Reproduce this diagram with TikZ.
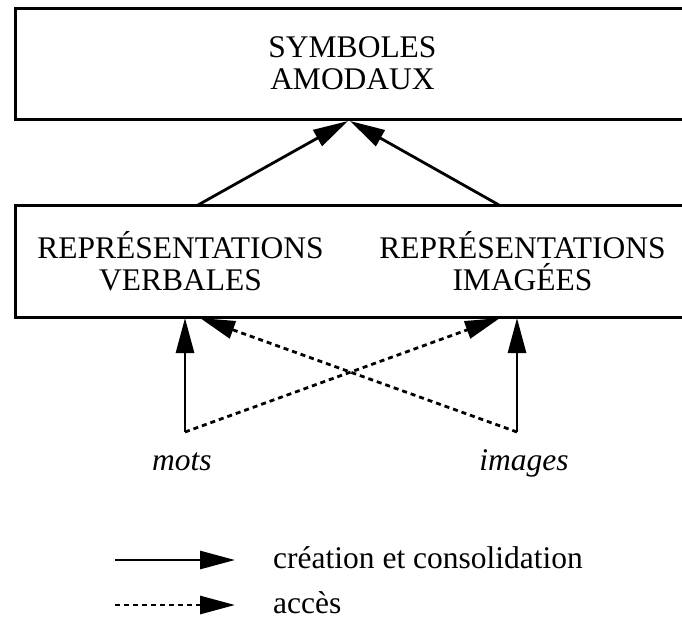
\documentclass[tikz,border=0pt]{standalone}
\usepackage{fontspec}
\setmainfont{Liberation Serif}
\usetikzlibrary{arrows.meta}
\begin{document}
\begin{tikzpicture}[x=1pt,y=1pt,
  box/.style={draw,line width=3pt,rectangle,inner sep=0pt,align=center},
  lbl/.style={inner sep=0pt,align=center,font=\fontsize{31.5}{32}\selectfont},
  solidarrow/.style={line width=2.8pt,-{Triangle[length=35pt,width=18pt]}},
  dasharrow/.style={line width=2.8pt,dash pattern=on 5pt off 4pt,-{Triangle[length=35pt,width=18pt]}}]
\useasboundingbox (0,0) rectangle (682,-619);
% boxes
\node[box,lbl,minimum width=675pt,minimum height=111pt] (top) at (352.5,-63.5) {SYMBOLES\\AMODAUX};
\node[box,minimum width=675pt,minimum height=112pt] (mid) at (352.5,-261) {};
\node[lbl] (verb) at (180.5,-261) {REPRÉSENTATIONS\\VERBALES};
\node[lbl] (img) at (522.5,-261) {REPRÉSENTATIONS\\IMAGÉES};
% bottom labels
\node[lbl,anchor=base,font=\fontsize{31.5}{32}\selectfont\itshape] (mots) at (182,-470) {mots};
\node[lbl,anchor=base,font=\fontsize{31.5}{32}\selectfont\itshape] (images) at (524,-470) {images};
% coordinates
\coordinate (ms) at (185,-432);
\coordinate (is) at (517,-432);
\coordinate (mt) at (185,-318);
\coordinate (it) at (517,-318);
\coordinate (dmt) at (500,-318);
\coordinate (dit) at (200,-318);
\coordinate (vs) at (198,-205);
\coordinate (gs) at (499,-205);
\coordinate (t1) at (348,-121);
\coordinate (t2) at (350,-121);
% arrows
\draw[solidarrow] (vs) -- (t1);
\draw[solidarrow] (gs) -- (t2);
\draw[solidarrow] (ms) -- (mt);
\draw[solidarrow] (is) -- (it);
\draw[dasharrow] (ms) -- (dmt);
\draw[dasharrow] (is) -- (dit);
% legend
\coordinate (l1a) at (115,-560);
\coordinate (l1b) at (235,-560);
\coordinate (l2a) at (115,-605);
\coordinate (l2b) at (235,-605);
\draw[solidarrow] (l1a) -- (l1b);
\draw[dasharrow] (l2a) -- (l2b);
\node[lbl,anchor=base west] (leg1) at (273,-568) {création et consolidation};
\node[lbl,anchor=base west] (leg2) at (273,-613) {accès};
\end{tikzpicture}
\end{document}
